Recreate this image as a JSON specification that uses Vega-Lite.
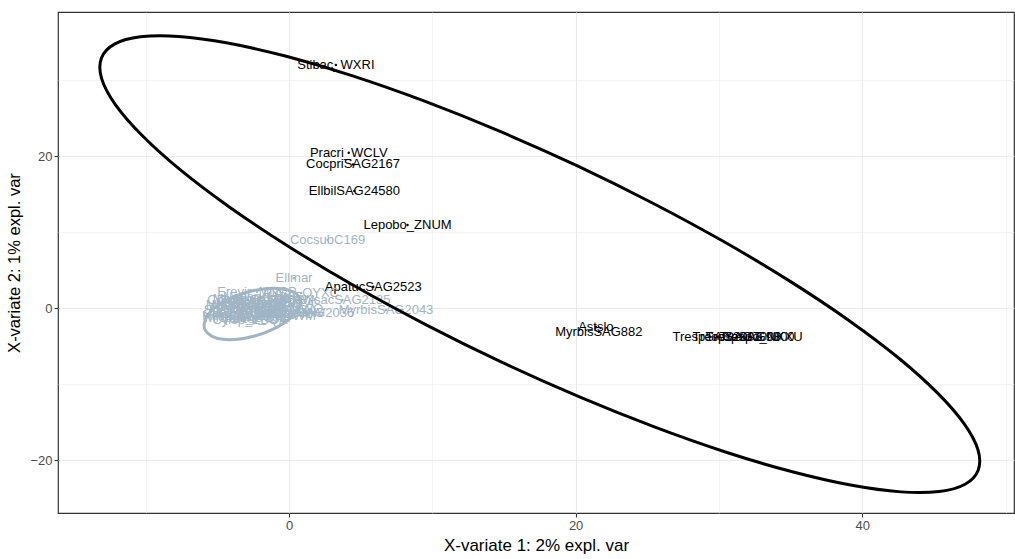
{
  "$schema": "https://vega.github.io/schema/vega-lite/v6.json",
  "width": 956,
  "height": 501,
  "autosize": {"type": "none"},
  "padding": {"left": 58, "top": 12, "right": 1, "bottom": 46},
  "background": "white",
  "config": {
    "view": {"stroke": "#333333", "strokeWidth": 1.2},
    "font": "Liberation Sans",
    "axis": {
      "domain": false,
      "gridColor": "#EBEBEB",
      "labelColor": "#4D4D4D",
      "labelFont": "Liberation Sans",
      "labelFontSize": 13,
      "tickColor": "#333333",
      "tickSize": 4,
      "tickWidth": 1.1,
      "labelPadding": 2,
      "titleColor": "#000000",
      "titleFont": "Liberation Sans",
      "titleFontWeight": "normal"
    }
  },
  "datasets": {
    "samples": [
      {"name": "Stibac_WXRI", "x1": 3.27, "x2": 32.04, "group": "Group 1"},
      {"name": "Pracri_WCLV", "x1": 4.17, "x2": 20.5, "group": "Group 1"},
      {"name": "CocpriSAG2167", "x1": 4.47, "x2": 18.95, "group": "Group 1"},
      {"name": "EllbilSAG24580", "x1": 4.56, "x2": 15.46, "group": "Group 1"},
      {"name": "Lepobo_ZNUM", "x1": 8.27, "x2": 10.99, "group": "Group 1"},
      {"name": "ApatucSAG2523", "x1": 5.88, "x2": 2.87, "group": "Group 1"},
      {"name": "MyrbisSAG882", "x1": 21.62, "x2": -3.05, "group": "Group 1"},
      {"name": "Astslo", "x1": 21.41, "x2": -2.39, "group": "Group 1"},
      {"name": "TrespSAG2003", "x1": 29.87, "x2": -3.72, "group": "Group 1"},
      {"name": "TrespSAG7000", "x1": 31.26, "x2": -3.78, "group": "Group 1"},
      {"name": "TrespSAG9300", "x1": 32.17, "x2": -3.7, "group": "Group 1"},
      {"name": "Trespo_NKXU", "x1": 32.94, "x2": -3.8, "group": "Group 1"},
      {"name": "CocsubC169", "x1": 2.69, "x2": 9.01, "group": "Group 2"},
      {"name": "Ellmar", "x1": 0.35, "x2": 3.97, "group": "Group 2"},
      {"name": "Erevir_MNCP", "x1": -2.23, "x2": 2.21, "group": "Group 2"},
      {"name": "Picsp_OYXC", "x1": 0.84, "x2": 2.04, "group": "Group 2"},
      {"name": "ChlsacSAG2135", "x1": 3.73, "x2": 1.12, "group": "Group 2"},
      {"name": "MyrbisSAG2043", "x1": 6.77, "x2": -0.2, "group": "Group 2"},
      {"name": "ChlsacSAG2036", "x1": 1.19, "x2": -0.59, "group": "Group 2"},
      {"name": "Hilsp_QRZT", "x1": -3.56, "x2": -0.99, "group": "Group 2"},
      {"name": "Mesvir_KLPB", "x1": -2.58, "x2": 1.25, "group": "Group 2"},
      {"name": "NanSAG2119", "x1": -2.37, "x2": 0.72, "group": "Group 2"},
      {"name": "Chrsp_TQBA", "x1": -1.88, "x2": 0.33, "group": "Group 2"},
      {"name": "GloSAG2241", "x1": -2.86, "x2": 0.07, "group": "Group 2"},
      {"name": "Klesp_VWNS", "x1": -1.47, "x2": -0.2, "group": "Group 2"},
      {"name": "Ostsp_DZHR", "x1": -2.9, "x2": -0.46, "group": "Group 2"},
      {"name": "PicsubSAG2048", "x1": -1.67, "x2": -0.72, "group": "Group 2"},
      {"name": "Prasin_BXUE", "x1": -2.58, "x2": -0.99, "group": "Group 2"},
      {"name": "Micpus_GGJL", "x1": -3.0, "x2": -1.25, "group": "Group 2"},
      {"name": "TetSAG2060", "x1": -2.16, "x2": 0.99, "group": "Group 2"},
      {"name": "Pycsp_RMFA", "x1": -0.98, "x2": 0.59, "group": "Group 2"},
      {"name": "Bathsp_AYWQ", "x1": -0.63, "x2": -0.07, "group": "Group 2"},
      {"name": "Ulvsp_NHLK", "x1": -2.8, "x2": 0.46, "group": "Group 2"},
      {"name": "Chlvul_PQRS", "x1": -2.9, "x2": 1.12, "group": "Group 2"},
      {"name": "Nepsp_HJKE", "x1": -1.88, "x2": 1.51, "group": "Group 2"},
      {"name": "ScaSAG2195", "x1": -3.2, "x2": -0.2, "group": "Group 2"},
      {"name": "Desarm_FTWM", "x1": -1.33, "x2": -0.99, "group": "Group 2"},
      {"name": "Cylsp_ZBQA", "x1": -2.72, "x2": -1.51, "group": "Group 2"},
      {"name": "Coesp_LMNV", "x1": -0.28, "x2": -0.59, "group": "Group 2"},
      {"name": "Monsp_XRTE", "x1": -3.0, "x2": 0.46, "group": "Group 2"},
      {"name": "Pedsp_YQWA", "x1": -0.98, "x2": 1.12, "group": "Group 2"},
      {"name": "Botbra_UIKP", "x1": -2.16, "x2": -1.25, "group": "Group 2"},
      {"name": "Chlamy_CVBG", "x1": -2.95, "x2": -0.72, "group": "Group 2"}
    ],
    "ellipses": [
      {"group": "Group 1", "t": 0, "x1": 47.18, "x2": -23.12},
      {"group": "Group 1", "t": 10, "x1": 48.09, "x2": -21.28},
      {"group": "Group 1", "t": 20, "x1": 48.08, "x2": -18.62},
      {"group": "Group 1", "t": 30, "x1": 47.13, "x2": -15.21},
      {"group": "Group 1", "t": 40, "x1": 45.28, "x2": -11.17},
      {"group": "Group 1", "t": 50, "x1": 42.6, "x2": -6.61},
      {"group": "Group 1", "t": 60, "x1": 39.14, "x2": -1.67},
      {"group": "Group 1", "t": 70, "x1": 35.03, "x2": 3.5},
      {"group": "Group 1", "t": 80, "x1": 30.39, "x2": 8.74},
      {"group": "Group 1", "t": 90, "x1": 25.36, "x2": 13.88},
      {"group": "Group 1", "t": 100, "x1": 20.09, "x2": 18.79},
      {"group": "Group 1", "t": 110, "x1": 14.73, "x2": 23.3},
      {"group": "Group 1", "t": 120, "x1": 9.46, "x2": 27.28},
      {"group": "Group 1", "t": 130, "x1": 4.44, "x2": 30.61},
      {"group": "Group 1", "t": 140, "x1": -0.19, "x2": 33.18},
      {"group": "Group 1", "t": 150, "x1": -4.28, "x2": 34.93},
      {"group": "Group 1", "t": 160, "x1": -7.7, "x2": 35.79},
      {"group": "Group 1", "t": 170, "x1": -10.37, "x2": 35.74},
      {"group": "Group 1", "t": 180, "x1": -12.18, "x2": 34.78},
      {"group": "Group 1", "t": 190, "x1": -13.09, "x2": 32.94},
      {"group": "Group 1", "t": 200, "x1": -13.08, "x2": 30.28},
      {"group": "Group 1", "t": 210, "x1": -12.13, "x2": 26.87},
      {"group": "Group 1", "t": 220, "x1": -10.28, "x2": 22.83},
      {"group": "Group 1", "t": 230, "x1": -7.6, "x2": 18.27},
      {"group": "Group 1", "t": 240, "x1": -4.14, "x2": 13.33},
      {"group": "Group 1", "t": 250, "x1": -0.03, "x2": 8.16},
      {"group": "Group 1", "t": 260, "x1": 4.61, "x2": 2.92},
      {"group": "Group 1", "t": 270, "x1": 9.64, "x2": -2.22},
      {"group": "Group 1", "t": 280, "x1": 14.91, "x2": -7.13},
      {"group": "Group 1", "t": 290, "x1": 20.27, "x2": -11.64},
      {"group": "Group 1", "t": 300, "x1": 25.54, "x2": -15.62},
      {"group": "Group 1", "t": 310, "x1": 30.56, "x2": -18.95},
      {"group": "Group 1", "t": 320, "x1": 35.19, "x2": -21.52},
      {"group": "Group 1", "t": 330, "x1": 39.28, "x2": -23.27},
      {"group": "Group 1", "t": 340, "x1": 42.7, "x2": -24.13},
      {"group": "Group 1", "t": 350, "x1": 45.37, "x2": -24.08},
      {"group": "Group 2", "t": 0, "x1": 0.24, "x2": 2.23},
      {"group": "Group 2", "t": 20, "x1": -0.57, "x2": 2.6},
      {"group": "Group 2", "t": 40, "x1": -1.63, "x2": 2.6},
      {"group": "Group 2", "t": 60, "x1": -2.8, "x2": 2.2},
      {"group": "Group 2", "t": 80, "x1": -3.95, "x2": 1.45},
      {"group": "Group 2", "t": 100, "x1": -4.93, "x2": 0.45},
      {"group": "Group 2", "t": 120, "x1": -5.6, "x2": -0.7},
      {"group": "Group 2", "t": 140, "x1": -5.9, "x2": -1.85},
      {"group": "Group 2", "t": 160, "x1": -5.85, "x2": -2.85},
      {"group": "Group 2", "t": 180, "x1": -5.4, "x2": -3.63},
      {"group": "Group 2", "t": 200, "x1": -4.63, "x2": -4.05},
      {"group": "Group 2", "t": 220, "x1": -3.57, "x2": -4.05},
      {"group": "Group 2", "t": 240, "x1": -2.4, "x2": -3.63},
      {"group": "Group 2", "t": 260, "x1": -1.25, "x2": -2.85},
      {"group": "Group 2", "t": 280, "x1": -0.27, "x2": -1.8},
      {"group": "Group 2", "t": 300, "x1": 0.44, "x2": -0.6},
      {"group": "Group 2", "t": 320, "x1": 0.78, "x2": 0.5},
      {"group": "Group 2", "t": 340, "x1": 0.71, "x2": 1.5}
    ]
  },
  "encoding": {
    "x": {
      "field": "x1",
      "type": "quantitative",
      "scale": {"domain": [-16.12, 50.59], "nice": false, "zero": false},
      "axis": {
        "title": "X-variate 1: 2% expl. var",
        "titleFontSize": 17,
        "titlePadding": 5,
        "values": [-10, 0, 10, 20, 30, 40, 50],
        "labelExpr": "datum.value % 20 === 0 ? datum.label : ''",
        "gridWidth": {"condition": {"test": "datum.value % 20 === 0", "value": 1.1}, "value": 0.55},
        "tickOpacity": {"condition": {"test": "datum.value % 20 === 0", "value": 1}, "value": 0}
      }
    },
    "y": {
      "field": "x2",
      "type": "quantitative",
      "scale": {"domain": [-26.91, 39.01], "nice": false, "zero": false},
      "axis": {
        "title": "X-variate 2: 1% expl. var",
        "titleFontSize": 16.5,
        "titlePadding": 7,
        "values": [-20, -10, 0, 10, 20, 30],
        "labelExpr": "datum.value % 20 === 0 ? datum.label : ''",
        "gridWidth": {"condition": {"test": "datum.value % 20 === 0", "value": 1.1}, "value": 0.55},
        "tickOpacity": {"condition": {"test": "datum.value % 20 === 0", "value": 1}, "value": 0}
      }
    },
    "color": {
      "field": "group",
      "type": "nominal",
      "scale": {"domain": ["Group 1", "Group 2"], "range": ["#000000", "#9FB4C4"]},
      "legend": null
    }
  },
  "layer": [
    {
      "data": {"name": "samples"},
      "mark": {"type": "text", "fontSize": 13, "font": "Liberation Sans", "align": "center", "baseline": "middle"},
      "encoding": {"text": {"field": "name", "type": "nominal"}}
    },
    {
      "data": {"name": "samples"},
      "mark": {"type": "point", "filled": true, "size": 6, "opacity": 1}
    },
    {
      "data": {"name": "ellipses"},
      "mark": {"type": "line", "interpolate": "cardinal-closed", "strokeWidth": 3},
      "encoding": {
        "detail": {"field": "group", "type": "nominal"},
        "order": {"field": "t", "type": "quantitative"}
      }
    }
  ]
}
